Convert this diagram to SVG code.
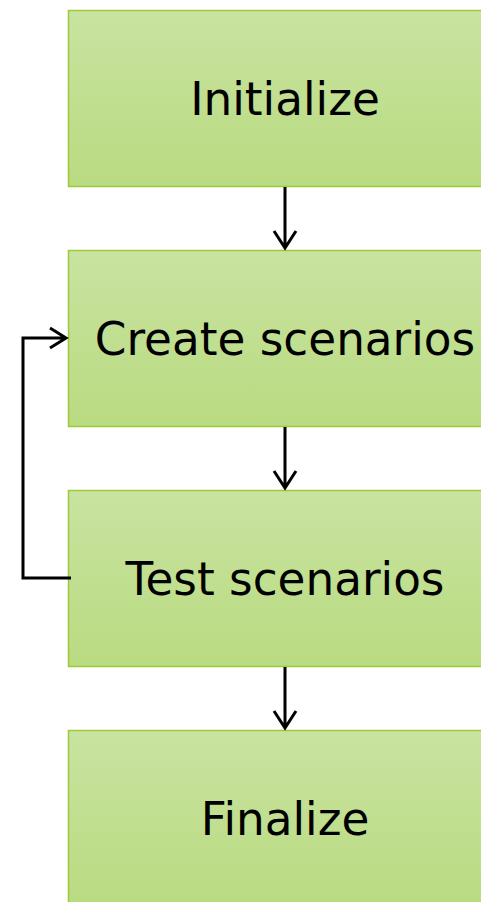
<svg xmlns="http://www.w3.org/2000/svg" width="481" height="902" viewBox="0 0 481 902">
<defs>
<linearGradient id="g" x1="0" y1="0" x2="0" y2="1">
<stop offset="0" stop-color="#c9e3a0"/>
<stop offset="1" stop-color="#b9db81"/>
</linearGradient>
<style>
.box{fill:url(#g);stroke:#9bcb3b;stroke-width:1.5}
.lbl{font-family:"DejaVu Sans",Verdana,sans-serif;font-size:45.3px;fill:#000;text-anchor:middle}
.con{fill:none;stroke:#000;stroke-width:3}
</style>
</defs>
<rect width="481" height="902" fill="#fff"/>
<g id="n1"><rect class="box" x="68.5" y="10.5" width="440" height="176"/><text class="lbl" x="285" y="115">Initialize</text></g>
<g id="n2"><rect class="box" x="68.5" y="250.5" width="440" height="176"/><text class="lbl" x="285" y="355">Create scenarios</text></g>
<g id="n3"><rect class="box" x="68.5" y="490.5" width="440" height="176"/><text class="lbl" x="285" y="595">Test scenarios</text></g>
<g id="n4"><rect class="box" x="68.5" y="730.5" width="440" height="176"/><text class="lbl" x="285" y="835">Finalize</text></g>
<g id="connectors">
<path class="con" d="M285,187 V247 M274,231 L285,248 L296,231"/>
<path class="con" d="M285,427 V487 M274,471 L285,488 L296,471"/>
<path class="con" d="M285,667 V727 M274,711 L285,728 L296,711"/>
<path class="con" d="M71,578 H23 V338 H65 M50,328 L66,338 L50,348"/>
</g>
</svg>
